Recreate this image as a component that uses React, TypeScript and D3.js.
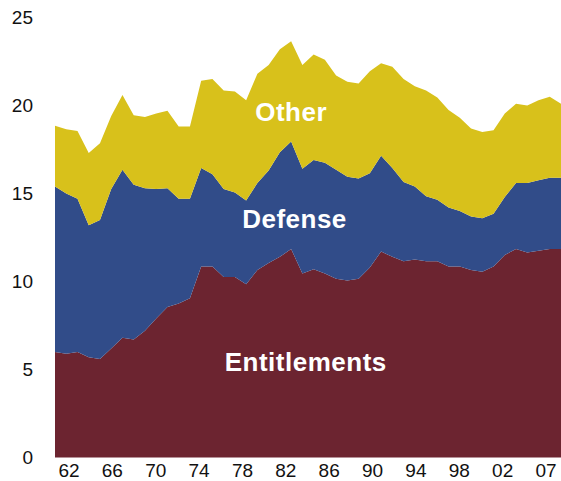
import React from 'react';
import { scaleLinear, scalePoint, stack, area, curveLinear } from 'd3';

// federal spending, % of GDP, fiscal years 1962-2007
const years = [
  1962, 1963, 1964, 1965, 1966, 1967, 1968, 1969, 1970, 1971, 1972, 1973,
  1974, 1975, 1976, 1977, 1978, 1979, 1980, 1981, 1982, 1983, 1984, 1985,
  1986, 1987, 1988, 1989, 1990, 1991, 1992, 1993, 1994, 1995, 1996, 1997,
  1998, 1999, 2000, 2001, 2002, 2003, 2004, 2005, 2006, 2007,
];

const entitlements = [
  6.0, 5.9, 6.0, 5.7, 5.6, 6.2, 6.8, 6.7, 7.2, 7.9, 8.55, 8.75,
  9.05, 10.85, 10.85, 10.25, 10.25, 9.85, 10.65, 11.05, 11.4, 11.85, 10.45, 10.7,
  10.45, 10.15, 10.05, 10.15, 10.8, 11.7, 11.4, 11.15, 11.25, 11.15, 11.15, 10.85,
  10.85, 10.65, 10.55, 10.85, 11.5, 11.85, 11.65, 11.75, 11.85, 11.85,
];

const defense = [
  9.4, 9.1, 8.7, 7.5, 7.9, 9.05, 9.55, 8.8, 8.1, 7.35, 6.75, 5.95,
  5.65, 5.6, 5.25, 5.0, 4.8, 4.75, 4.95, 5.25, 5.95, 6.1, 5.95, 6.2,
  6.3, 6.2, 5.9, 5.7, 5.35, 5.45, 5.05, 4.5, 4.15, 3.7, 3.5, 3.35,
  3.15, 3.05, 3.05, 3.0, 3.3, 3.75, 3.95, 4.0, 4.05, 4.05,
];

const other = [
  3.45, 3.65, 3.85, 4.1, 4.35, 4.15, 4.25, 3.95, 4.05, 4.3, 4.4, 4.1,
  4.1, 4.95, 5.4, 5.6, 5.75, 5.7, 6.2, 6.0, 5.85, 5.7, 5.9, 6.0,
  5.85, 5.35, 5.4, 5.4, 5.8, 5.25, 5.75, 5.85, 5.7, 6.0, 5.8, 5.55,
  5.3, 5.0, 4.9, 4.75, 4.75, 4.5, 4.4, 4.55, 4.6, 4.2,
];

const seriesKeys = ['Entitlements', 'Defense', 'Other'];
const seriesColors = ['#6c2430', '#314c89', '#d8c11b'];
const yTicks = [0, 5, 10, 15, 20, 25];
const xTickLabels = ['62', '66', '70', '74', '78', '82', '86', '90', '94', '98', '02', '07'];

// where the series names sit, in data units
const seriesLabels = [
  { text: 'Entitlements', year: 1984.3, value: 4.9 },
  { text: 'Defense', year: 1983.3, value: 13.05 },
  { text: 'Other', year: 1983, value: 19.1 },
];

const W = 561;
const H = 481;
const font = '"Liberation Sans", Arial, Helvetica, sans-serif';

export default function App() {
  const x = scaleLinear().domain([1962, 2007]).range([55, 561]);
  const y = scaleLinear().domain([0, 25]).range([457.5, 17.5]);
  const xLab = scalePoint<string>().domain(xTickLabels).range([69, 546]);

  const rows = years.map((yr, i) => ({
    year: yr,
    Entitlements: entitlements[i],
    Defense: defense[i],
    Other: other[i],
  }));
  const layers = stack<any>().keys(seriesKeys)(rows);
  const areaGen = area<any>()
    .x((d) => x(d.data.year))
    .y0((d) => y(d[0]))
    .y1((d) => y(d[1]))
    .curve(curveLinear);

  return (
    <svg
      width={W}
      height={H}
      style={{ position: 'absolute', left: 0, top: 0, background: '#fff' }}
      fontFamily={font}
    >
      {layers.map((layer, i) => (
        <path key={layer.key} d={areaGen(layer) || ''} fill={seriesColors[i]} />
      ))}

      {yTicks.map((t) => (
        <text
          key={t}
          x={33}
          y={y(t)}
          textAnchor="end"
          dominantBaseline="central"
          fontSize={19}
          fill="#111"
        >
          {t}
        </text>
      ))}

      {xTickLabels.map((l) => (
        <text key={l} x={xLab(l)} y={476.5} textAnchor="middle" fontSize={19} fill="#111">
          {l}
        </text>
      ))}

      {seriesLabels.map((s) => (
        <text
          key={s.text}
          x={x(s.year)}
          y={y(s.value)}
          textAnchor="middle"
          fontSize={26}
          fontWeight="bold"
          fill="#fff"
          letterSpacing={0.5}
        >
          {s.text}
        </text>
      ))}
    </svg>
  );
}
